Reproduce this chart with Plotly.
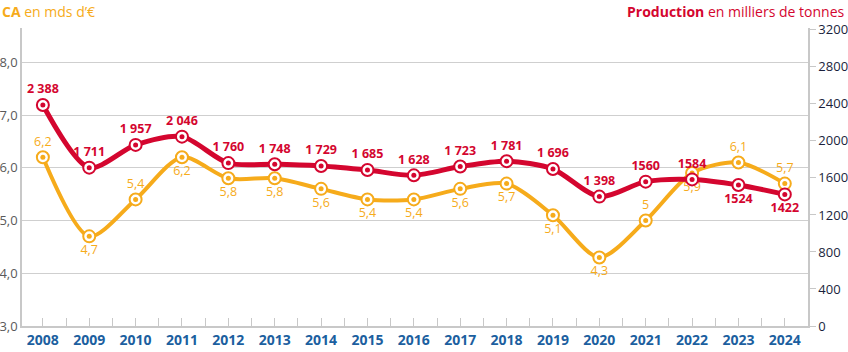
import plotly.graph_objects as go

years = [2008, 2009, 2010, 2011, 2012, 2013, 2014, 2015, 2016, 2017, 2018, 2019, 2020, 2021, 2022, 2023, 2024]
ca = [6.2, 4.7, 5.4, 6.2, 5.8, 5.8, 5.6, 5.4, 5.4, 5.6, 5.7, 5.1, 4.3, 5.0, 5.9, 6.1, 5.7]
ca_labels = ["6,2", "4,7", "5,4", "6,2", "5,8", "5,8", "5,6", "5,4", "5,4", "5,6", "5,7", "5,1", "4,3", "5", "5,9", "6,1", "5,7"]
ca_pos = ["top center", "bottom center", "top center", "bottom center", "bottom center", "bottom center",
          "bottom center", "bottom center", "bottom center", "bottom center", "bottom center", "bottom center",
          "bottom center", "top center", "bottom center", "top center", "top center"]
prod = [2388, 1711, 1957, 2046, 1760, 1748, 1729, 1685, 1628, 1723, 1781, 1696, 1398, 1560, 1584, 1524, 1422]
prod_labels = ["2 388", "1 711", "1 957", "2 046", "1 760", "1 748", "1 729", "1 685", "1 628", "1 723",
               "1 781", "1 696", "1 398", "1560", "1584", "1524", "1422"]
prod_pos = ["top center"] * 15 + ["bottom center", "bottom center"]
left_ticks = [3, 4, 5, 6, 7, 8]
left_ticktext = ["3,0", "4,0", "5,0", "6,0", "7,0", "8,0"]
right_ticks = [0, 400, 800, 1200, 1600, 2000, 2400, 2800, 3200]

YEL = "#f6ab1b"
RED = "#d4062f"
BLUE = "#1c5f9f"
FONT = "Open Sans"

fig = go.Figure()

# CA series (left axis)
fig.add_trace(go.Scatter(x=years, y=ca, mode="lines", line=dict(color=YEL, width=4, shape="spline", smoothing=0.8),
                         hoverinfo="skip", yaxis="y"))
fig.add_trace(go.Scatter(x=years, y=ca, mode="markers+text", text=ca_labels, textposition=ca_pos,
                         textfont=dict(family=FONT, size=12.5, color=YEL),
                         marker=dict(size=12, color="white", line=dict(color=YEL, width=2)), yaxis="y"))
fig.add_trace(go.Scatter(x=years, y=ca, mode="markers", marker=dict(size=5, color=YEL), yaxis="y"))

# Production series (right axis)
fig.add_trace(go.Scatter(x=years, y=prod, mode="lines", line=dict(color=RED, width=5, shape="spline", smoothing=0.8),
                         hoverinfo="skip", yaxis="y2"))
fig.add_trace(go.Scatter(x=years, y=prod, mode="markers+text", text=prod_labels, textposition=prod_pos,
                         textfont=dict(family=FONT, size=12.5, color=RED, weight="bold"),
                         marker=dict(size=12, color="white", line=dict(color=RED, width=2)), yaxis="y2"))
fig.add_trace(go.Scatter(x=years, y=prod, mode="markers", marker=dict(size=5, color=RED), yaxis="y2"))

fig.update_layout(
    width=848, height=352,
    margin=dict(l=22, r=40, t=28, b=26),
    paper_bgcolor="white", plot_bgcolor="white",
    showlegend=False,
    font=dict(family=FONT),
    xaxis=dict(range=[2007.55, 2024.5], tickmode="array", tickvals=years, ticktext=[str(y) for y in years],
               tickfont=dict(family=FONT, size=14, color=BLUE, weight="bold"), automargin=False,
               showgrid=False, zeroline=False, showline=True, linecolor="#c8c8c8", linewidth=1.5,
               ticks="inside", ticklen=8, tickcolor="#c8c8c8",
               minor=dict(dtick=0.5, tick0=2007.5, ticks="inside", ticklen=8, tickcolor="#c8c8c8", showgrid=False),
               fixedrange=True),
    yaxis=dict(range=[3, 8.65], tickmode="array", tickvals=left_ticks, ticktext=left_ticktext,
               tickfont=dict(family=FONT, size=13, color="#5a5a5a"), automargin=False,
               showgrid=True, gridcolor="#cfcfcf", gridwidth=1.2, zeroline=False,
               showline=True, linecolor="#c8c8c8", linewidth=1.5, ticks="", fixedrange=True),
    yaxis2=dict(range=[0, 3220], overlaying="y", side="right", tickmode="array", tickvals=right_ticks,
                tickfont=dict(family=FONT, size=13, color="#1a1f3c"), automargin=False,
                showgrid=False, zeroline=False, showline=True, linecolor="#c8c8c8", linewidth=1.5,
                ticks="outside", ticklen=6, tickcolor="#c8c8c8", fixedrange=True),
    annotations=[
        dict(xref="paper", yref="paper", x=-22/786, y=1, yshift=28, xanchor="left", yanchor="top", showarrow=False,
             text="<b>CA</b> en mds d\u2019\u20ac", font=dict(family=FONT, size=14, color=YEL)),
        dict(xref="paper", yref="paper", x=1 + 39/786, y=1, yshift=28, xanchor="right", yanchor="top", showarrow=False,
             text="<b>Production</b> en milliers de tonnes", font=dict(family=FONT, size=14, color=RED)),
    ],
)

fig.write_html("out.html")
